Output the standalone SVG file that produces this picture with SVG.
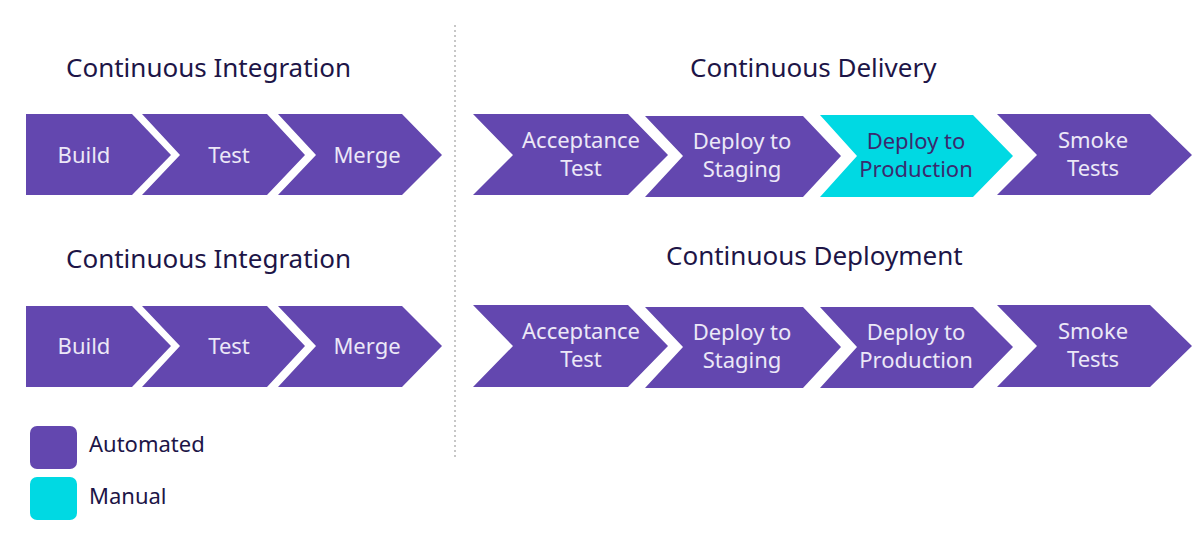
<svg xmlns="http://www.w3.org/2000/svg" width="1200" height="539" viewBox="0 0 1200 539">
<style>
.bg{fill:#ffffff}
.auto{fill:#6347af}
.man{fill:#00d9e3}
.title{font-family:"Noto Sans","Liberation Sans",sans-serif;font-size:26px;fill:#1d1547}
.lbl{font-family:"Noto Sans","Liberation Sans",sans-serif;font-size:22px;fill:#ece8f7;text-anchor:middle}
.lbl.dark{fill:#3b2a6e}
.leg{font-family:"Noto Sans","Liberation Sans",sans-serif;font-size:22px;fill:#1d1547}
.div{stroke:#b5b5b5;stroke-width:1.5;stroke-dasharray:2 3;fill:none}
</style>
<rect class="bg" x="0" y="0" width="1200" height="539"/>
<g id="divider"><line class="div" x1="455" y1="25" x2="455" y2="457"/></g>
<g id="titles">
<text class="title" x="66" y="77">Continuous Integration</text>
<text class="title" x="690" y="77">Continuous Delivery</text>
<text class="title" x="66" y="268">Continuous Integration</text>
<text class="title" x="666" y="265">Continuous Deployment</text>
</g>
<g id="ci1-build"><polygon class="auto" points="26,114 132,114 171,155 132,195 26,195"/><text class="lbl" x="84" y="163">Build</text></g>
<g id="ci1-test"><polygon class="auto" points="142,114 267,114 305,155 267,195 142,195 180,155"/><text class="lbl" x="229" y="163">Test</text></g>
<g id="ci1-merge"><polygon class="auto" points="278,114 402,114 442,155 402,195 278,195 316,155"/><text class="lbl" x="367" y="163">Merge</text></g>
<g id="cd-accept"><polygon class="auto" points="473,114 628,114 668,155 628,195 473,195 513,155"/><text class="lbl" x="581" y="148">Acceptance</text><text class="lbl" x="581" y="176">Test</text></g>
<g id="cd-staging"><polygon class="auto" points="645,116 803,116 841,156 803,197 645,197 683,156"/><text class="lbl" x="742" y="149">Deploy to</text><text class="lbl" x="742" y="177">Staging</text></g>
<g id="cd-prod"><polygon class="man" points="820,115 973,115 1013,156 973,197 820,197 857,156"/><text class="lbl dark" x="916" y="149">Deploy to</text><text class="lbl dark" x="916" y="177">Production</text></g>
<g id="cd-smoke"><polygon class="auto" points="997,114 1150,114 1192,155 1150,195 997,195 1037,155"/><text class="lbl" x="1093" y="148">Smoke</text><text class="lbl" x="1093" y="176">Tests</text></g>
<g id="ci2-build"><polygon class="auto" points="26,306 132,306 171,346 132,387 26,387"/><text class="lbl" x="84" y="354">Build</text></g>
<g id="ci2-test"><polygon class="auto" points="142,306 267,306 305,346 267,387 142,387 180,346"/><text class="lbl" x="229" y="354">Test</text></g>
<g id="ci2-merge"><polygon class="auto" points="278,306 402,306 442,346 402,387 278,387 316,346"/><text class="lbl" x="367" y="354">Merge</text></g>
<g id="dep-accept"><polygon class="auto" points="473,305 628,305 668,346 628,387 473,387 513,346"/><text class="lbl" x="581" y="339">Acceptance</text><text class="lbl" x="581" y="367">Test</text></g>
<g id="dep-staging"><polygon class="auto" points="645,307 803,307 841,347 803,388 645,388 683,347"/><text class="lbl" x="742" y="340">Deploy to</text><text class="lbl" x="742" y="368">Staging</text></g>
<g id="dep-prod"><polygon class="auto" points="820,307 973,307 1013,347 973,388 820,388 857,347"/><text class="lbl" x="916" y="340">Deploy to</text><text class="lbl" x="916" y="368">Production</text></g>
<g id="dep-smoke"><polygon class="auto" points="997,305 1150,305 1192,346 1150,387 997,387 1037,346"/><text class="lbl" x="1093" y="339">Smoke</text><text class="lbl" x="1093" y="367">Tests</text></g>
<g id="legend-automated"><rect class="auto" x="30" y="426" width="47" height="43" rx="7"/><text class="leg" x="89" y="452">Automated</text></g>
<g id="legend-manual"><rect class="man" x="30" y="477" width="47" height="43" rx="7"/><text class="leg" x="89" y="504">Manual</text></g>
</svg>
